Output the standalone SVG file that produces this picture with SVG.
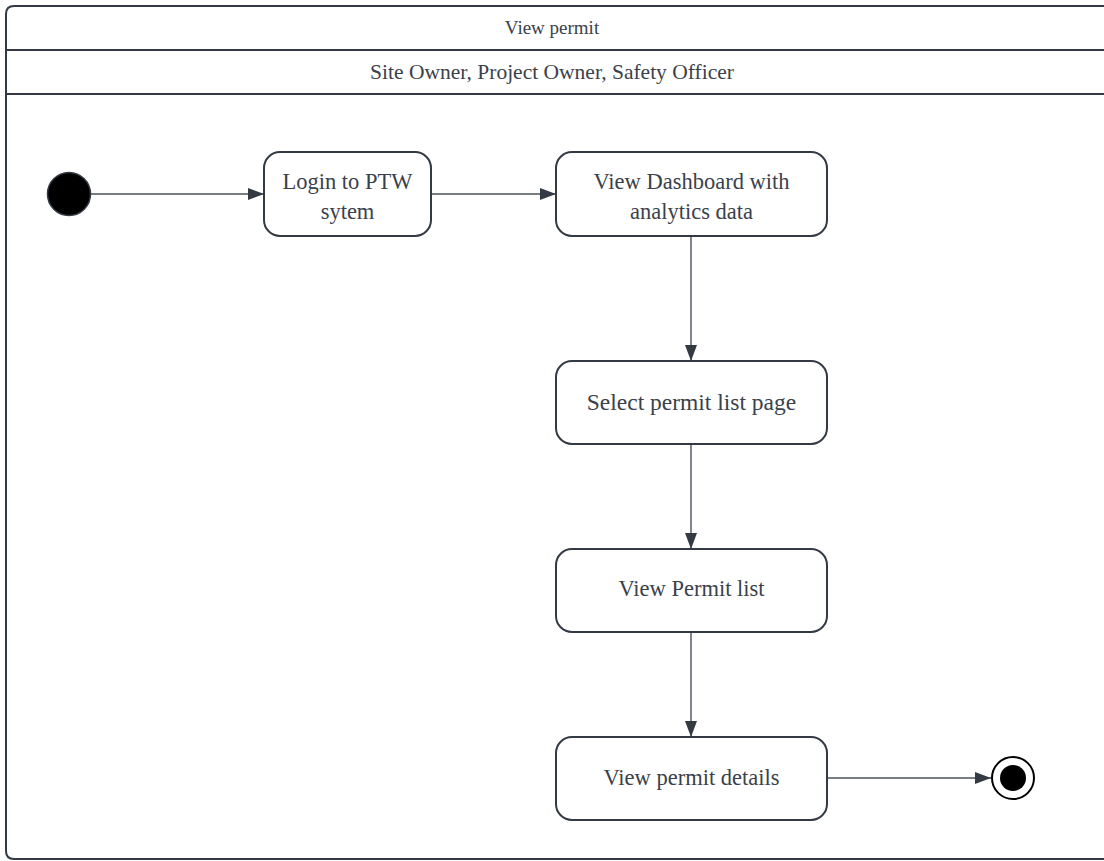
<svg xmlns="http://www.w3.org/2000/svg" width="1104" height="861" viewBox="0 0 1104 861">
<style>
.frame{fill:none;stroke:#333a44;stroke-width:2}
.node{fill:#fff;stroke:#333a44;stroke-width:2}
.t{font-family:"Liberation Serif","Times New Roman",serif;font-size:22.5px;fill:#3a414a;text-anchor:middle}
.h{font-family:"Liberation Serif","Times New Roman",serif;font-size:21.5px;fill:#3a414a;text-anchor:middle}
.edge{fill:none;stroke:#4b525b;stroke-width:1.4}
</style>
<defs>
<marker id="ah" viewBox="0 0 16 12" refX="16" refY="6" markerWidth="16" markerHeight="12" markerUnits="userSpaceOnUse" orient="auto">
<path d="M0,0 L16,6 L0,12 Z" fill="#333a44"/>
</marker>
</defs>
<rect width="1104" height="861" fill="#fff"/>
<g id="frame">
<path class="frame" d="M1110,6 H14 Q6,6 6,14 V851 Q6,859 14,859 H1110"/>
<line class="frame" x1="6" y1="50" x2="1110" y2="50"/>
<line class="frame" x1="6" y1="94" x2="1110" y2="94"/>
<text class="h" x="552" y="34" style="font-size:19px">View permit</text>
<text class="h" x="552" y="79">Site Owner, Project Owner, Safety Officer</text>
</g>
<g id="connectors">
<line class="edge" x1="91" y1="194" x2="264" y2="194" marker-end="url(#ah)"/>
<line class="edge" x1="431" y1="194" x2="556" y2="194" marker-end="url(#ah)"/>
<line class="edge" x1="691" y1="236" x2="691" y2="361" marker-end="url(#ah)"/>
<line class="edge" x1="691" y1="444" x2="691" y2="549" marker-end="url(#ah)"/>
<line class="edge" x1="691" y1="632" x2="691" y2="737" marker-end="url(#ah)"/>
<line class="edge" x1="827" y1="778" x2="991" y2="778" marker-end="url(#ah)"/>
</g>
<g id="start">
<circle cx="69" cy="194" r="21.5" fill="#000" stroke="#333a44" stroke-width="1.5"/>
</g>
<g id="login">
<rect class="node" x="264" y="152" width="167" height="84" rx="16"/>
<text class="t" x="347.5" y="189">Login to PTW</text>
<text class="t" x="347.5" y="219">sytem</text>
</g>
<g id="dashboard">
<rect class="node" x="556" y="152" width="271" height="84" rx="16"/>
<text class="t" x="691.5" y="189">View Dashboard with</text>
<text class="t" x="691.5" y="219">analytics data</text>
</g>
<g id="select">
<rect class="node" x="556" y="361" width="271" height="83" rx="16"/>
<text class="t" x="691.5" y="410" style="font-size:23.5px">Select permit list page</text>
</g>
<g id="list">
<rect class="node" x="556" y="549" width="271" height="83" rx="16"/>
<text class="t" x="691.5" y="596">View Permit list</text>
</g>
<g id="details">
<rect class="node" x="556" y="737" width="271" height="83" rx="16"/>
<text class="t" x="691.5" y="785">View permit details</text>
</g>
<g id="end">
<circle cx="1013" cy="778" r="21" fill="#fff" stroke="#000" stroke-width="2"/>
<circle cx="1013" cy="778" r="13" fill="#000"/>
</g>
</svg>
